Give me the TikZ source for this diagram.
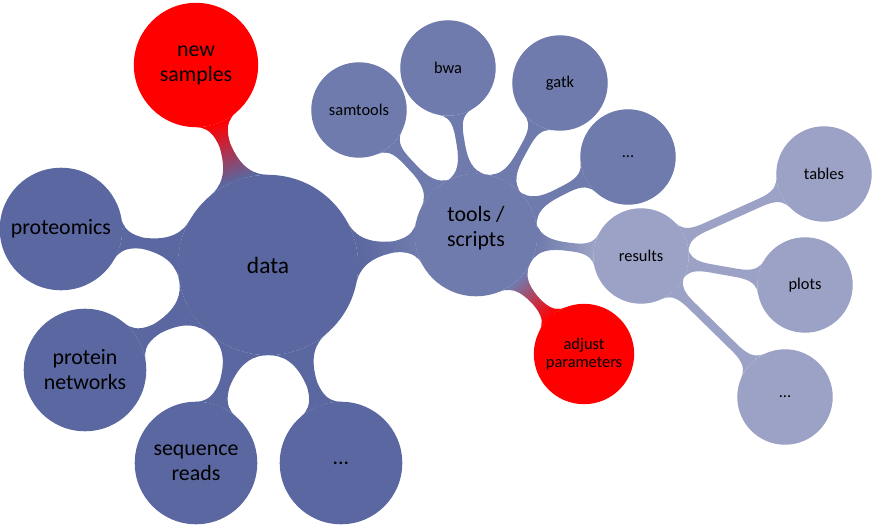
\documentclass[tikz,border=0pt]{standalone}
\usepackage{fontspec}
\setmainfont{Carlito}
\usetikzlibrary{mindmap,backgrounds}
\definecolor{datablue}{RGB}{90,103,160}
\colorlet{toolblue}{datablue!87}
\colorlet{resultblue}{toolblue!70}
\begin{document}
\begin{tikzpicture}[x=0.0225cm,y=0.0225cm,
  bubble/.style={circle, fill=#1, draw=#1, line width=0.8pt, inner sep=0pt, align=center, text=black},
  rootbubble/.style={bubble=datablue, minimum size=4.03cm, font=\fontsize{15}{18}\selectfont},
  bigbubble/.style={bubble=#1, minimum size=2.73cm, font=\fontsize{14}{16}\selectfont},
  smallbubble/.style={bubble=#1, minimum size=2.12cm, font=\fontsize{10.5}{12}\selectfont},
  wide bar/.style={circle connection bar switch color=#1, line width=5.2pt},
  thin bar/.style={circle connection bar switch color=#1, line width=4.3pt}]
\useasboundingbox (0,0) rectangle (872,524);

% data and its branches
\node[rootbubble] (data) at (268,259) {data};
\node[bigbubble=red, minimum size=2.77cm] (newsamp) at (196,459) {new\\samples};
\node[bigbubble=datablue] (prot) at (61,295) {proteomics};
\node[bigbubble=datablue] (protnet) at (85,154) {protein\\networks};
\node[bigbubble=datablue] (seq) at (196,61) {sequence\\reads};
\node[bigbubble=datablue] (datamore) at (341,61) {...};

% tools and scripts
\node[bigbubble=toolblue, text depth=11pt] (tools) at (476,289) {tools /\\scripts};
\node[smallbubble=toolblue] (samtools) at (359,414) {samtools};
\node[smallbubble=toolblue] (bwa) at (448,456) {bwa};
\node[smallbubble=toolblue] (gatk) at (560,441) {gatk};
\node[smallbubble=toolblue] (toolmore) at (628,367) {...};
\node[smallbubble=red, minimum size=2.23cm] (adjust) at (584,170) {adjust\\parameters};

% results
\node[smallbubble=resultblue] (results) at (641,268) {results};
\node[smallbubble=resultblue] (tables) at (824,350) {tables};
\node[smallbubble=resultblue] (plots) at (805,239) {plots};
\node[smallbubble=resultblue] (resmore) at (785,127) {...};

% connection bars, kept behind the bubbles
\begin{scope}[on background layer]
\path (newsamp) to[wide bar=from (red) to (datablue)] (data);
\path (data) to[wide bar=from (datablue) to (datablue)] (prot);
\path (data) to[wide bar=from (datablue) to (datablue)] (protnet);
\path (data) to[wide bar=from (datablue) to (datablue)] (seq);
\path (data) to[wide bar=from (datablue) to (datablue)] (datamore);
\path (data) to[wide bar=from (datablue) to (toolblue)] (tools);

\path (tools) to[thin bar=from (toolblue) to (toolblue)] (samtools);
\path (tools) to[thin bar=from (toolblue) to (toolblue)] (bwa);
\path (tools) to[thin bar=from (toolblue) to (toolblue)] (gatk);
\path (tools) to[thin bar=from (toolblue) to (toolblue)] (toolmore);
\path (tools) to[thin bar=from (toolblue) to (red)] (adjust);
\path (tools) to[thin bar=from (toolblue) to (resultblue)] (results);

\path (results) to[thin bar=from (resultblue) to (resultblue)] (tables);
\path (results) to[thin bar=from (resultblue) to (resultblue)] (plots);
\path (results) to[thin bar=from (resultblue) to (resultblue)] (resmore);
\end{scope}
\end{tikzpicture}
\end{document}
